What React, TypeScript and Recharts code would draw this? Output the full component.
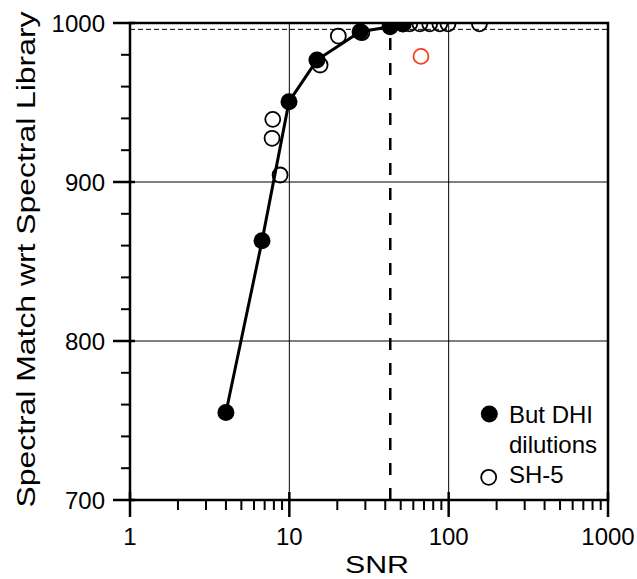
import { ScatterChart, Scatter, XAxis, YAxis, ReferenceLine, ReferenceArea, Legend } from 'recharts';

const FONT = '"Liberation Sans", Arial, Helvetica, sans-serif';

// But DHI dilutions (filled, joined by line)
const dilutionSnr = [4.0, 6.74, 9.95, 14.9, 27.8, 42.9, 51.5];
const dilutionMatch = [755, 863, 950.5, 976.7, 994.5, 997.7, 999.4];

// SH-5 (open circles)
const sh5Snr = [7.87, 7.79, 8.75, 15.6, 20.3, 28.5, 52, 57, 66, 76, 88, 99, 156];
const sh5Match = [939.4, 927.5, 904.4, 973.6, 991.8, 993.9, 999.5, 999.5, 999.5, 999.5, 999.5, 999.5, 999.5];

// odd SH-5 point drawn in red
const outlierSnr = [67];
const outlierMatch = [979];

const xMajorTicks = [1, 10, 100, 1000];
const xMinorTicks = [2, 3, 4, 5, 6, 7, 8, 9, 20, 30, 40, 50, 60, 70, 80, 90, 200, 300, 400, 500, 600, 700, 800, 900];
const yMajorTicks = [700, 800, 900, 1000];
const yMinorTicks = [720, 740, 760, 780, 820, 840, 860, 880, 920, 940, 960, 980];

const xGrid = [10, 100];
const yGrid = [800, 900];
const snrCutoff = 43;
const matchCutoff = 996;

const legendLines = ['But DHI', 'dilutions', 'SH-5'];

const dilutionData = dilutionSnr.map((x, i) => ({ snr: x, match: dilutionMatch[i] }));
const sh5Data = sh5Snr.map((x, i) => ({ snr: x, match: sh5Match[i] }));
const outlierData = outlierSnr.map((x, i) => ({ snr: x, match: outlierMatch[i] }));

// tickSize/tickMargin are 0, so x/y given to these sit on the axis line
const renderXTick = (props: any) => {
  const { x, y, payload } = props;
  const major = xMajorTicks.includes(payload.value);
  return (
    <g key={'xt' + payload.value}>
      <line x1={x} x2={x} y1={major ? y - 8 : y} y2={major ? y + 17 : y + 10} stroke="#000" strokeWidth={major ? 2.5 : 2} />
      {major && (
        <text x={x} y={y + 45} textAnchor="middle" fontSize={24} fontFamily={FONT} fill="#000">
          {payload.value}
        </text>
      )}
    </g>
  );
};

const renderYTick = (props: any) => {
  const { x, y, payload } = props;
  const major = yMajorTicks.includes(payload.value);
  return (
    <g key={'yt' + payload.value}>
      <line x1={major ? x - 17 : x - 9} x2={major ? x + 5 : x} y1={y} y2={y} stroke="#000" strokeWidth={major ? 2.5 : 2} />
      {major && (
        <text x={x - 25} y={y + 9} textAnchor="end" fontSize={24} fontFamily={FONT} fill="#000">
          {payload.value}
        </text>
      )}
    </g>
  );
};

const FilledDot = (props: any) => <circle cx={props.cx} cy={props.cy} r={8.5} fill="#000" />;
const OpenDot = (props: any) => <circle cx={props.cx} cy={props.cy} r={7.5} fill="none" stroke="#000" strokeWidth={1.8} />;
const RedDot = (props: any) => <circle cx={props.cx} cy={props.cy} r={7.5} fill="none" stroke="#f4411f" strokeWidth={1.8} />;

const LegendBox = () => (
  <svg width={150} height={90}>
    <circle cx={11.3} cy={14} r={8.5} fill="#000" />
    <text x={31} y={23} fontSize={24} fontFamily={FONT}>{legendLines[0]}</text>
    <text x={31} y={52.5} fontSize={24} fontFamily={FONT}>{legendLines[1]}</text>
    <circle cx={10.7} cy={77.3} r={7.5} fill="none" stroke="#000" strokeWidth={1.8} />
    <text x={31} y={83} fontSize={24} fontFamily={FONT}>{legendLines[2]}</text>
  </svg>
);

export default function App() {
  return (
    <div style={{ fontFamily: FONT, position: 'absolute', left: 8, top: 8 }}>
      <ScatterChart width={629} height={571} margin={{ top: 15, right: 29, left: 0, bottom: 0 }}>
        <XAxis
          dataKey="snr"
          type="number"
          scale="log"
          domain={[1, 1000]}
          allowDataOverflow
          ticks={[...xMajorTicks, ...xMinorTicks]}
          interval={0}
          tick={renderXTick}
          tickLine={false}
          axisLine={false}
          tickSize={0}
          tickMargin={0}
          height={79}
          label={{
            content: (p: any) => (
              <text
                x={p.viewBox.x + p.viewBox.width / 2 + 8}
                y={p.viewBox.y + 73}
                textAnchor="middle"
                fontSize={24}
                textLength={64}
                lengthAdjust="spacingAndGlyphs"
                fontFamily={FONT}
              >
                SNR
              </text>
            ),
          }}
        />
        <YAxis
          dataKey="match"
          type="number"
          domain={[700, 1000]}
          allowDataOverflow
          ticks={[...yMajorTicks, ...yMinorTicks]}
          interval={0}
          tick={renderYTick}
          tickLine={false}
          axisLine={false}
          tickSize={0}
          tickMargin={0}
          width={122}
          label={{
            content: (p: any) => (
              <text
                transform={`translate(26.5, ${p.viewBox.y + p.viewBox.height / 2 - 2}) rotate(-90)`}
                textAnchor="middle"
                fontSize={25}
                textLength={496}
                lengthAdjust="spacingAndGlyphs"
                fontFamily={FONT}
              >
                Spectral Match wrt Spectral Library
              </text>
            ),
          }}
        />
        {xGrid.map((v) => (
          <ReferenceLine key={'gx' + v} x={v} stroke="#000" strokeWidth={1} />
        ))}
        {yGrid.map((v) => (
          <ReferenceLine key={'gy' + v} y={v} stroke="#000" strokeWidth={1} />
        ))}
        <ReferenceLine y={matchCutoff} stroke="#000" strokeWidth={1} strokeDasharray="5 3" />
        <ReferenceLine x={snrCutoff} stroke="#000" strokeWidth={2.5} strokeDasharray="12 13" />
        <ReferenceArea x1={1} x2={1000} y1={700} y2={1000} fill="none" stroke="#000" strokeWidth={2.5} />
        <Scatter
          name="But DHI dilutions"
          data={dilutionData}
          shape={<FilledDot />}
          line={{ stroke: '#000', strokeWidth: 3 }}
          isAnimationActive={false}
        />
        <Scatter name="SH-5" data={sh5Data} shape={<OpenDot />} isAnimationActive={false} />
        <Scatter name="SH-5 outlier" data={outlierData} shape={<RedDot />} legendType="none" isAnimationActive={false} />
        <Legend
          layout="vertical"
          align="center"
          verticalAlign="middle"
          content={<LegendBox />}
          wrapperStyle={{ left: 470, top: 392, width: 150, height: 90 }}
        />
      </ScatterChart>
    </div>
  );
}
